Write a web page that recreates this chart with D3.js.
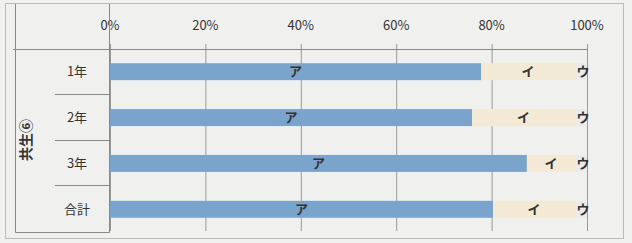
<!DOCTYPE html>
<html>
<head>
<meta charset="utf-8">
<script src="https://cdn.jsdelivr.net/npm/d3@7/dist/d3.min.js"></script>
<style>

html, body {
  width: 100%;
  height: 100%;
  overflow: hidden;
  margin: 0;
  padding: 0;
  background: #f1f1ef;
}

text {
  font-family: "Noto Sans CJK JP", "Noto Sans", sans-serif;
  fill: #333;
}

</style>
</head>
<body>
<script>

// values (percent)
var groupLabel = '共生⑥';
var categories = ['1年', '2年', '3年', '合計'];
var seriesNames = ['ア', 'イ', 'ウ'];
var seriesA = [77.8, 75.9, 87.4, 80.3];
var seriesI = [19.7, 21.6, 10.1, 17.2];
var seriesU = [2.5, 2.5, 2.5, 2.5];
var ticks = [0, 20, 40, 60, 80, 100];

var colors = ['#7ba4cd', '#f4e9d4', '#ebebe9'];

var w = 632,
    h = 243,
    svg = d3.select('body').append('svg')
      .attr('width', w)
      .attr('height', h);

var x = d3.scaleLinear().domain([0, 100]).range([110, 587]);
var y = d3.scaleBand().domain(categories).range([49, 232]).paddingInner(0.63).paddingOuter(0.31);

// outer frame
svg.append('rect')
  .attr('x', 5.5).attr('y', 3.5)
  .attr('width', 618).attr('height', 235)
  .attr('fill', '#f0f0ee')
  .attr('stroke', '#bbb');

// stack the series
var rows = categories.map(function(c, i) {
  return { cat: c, 'ア': seriesA[i], 'イ': seriesI[i], 'ウ': seriesU[i] };
});
var stacked = d3.stack().keys(seriesNames)(rows);

// vertical grid lines
svg.append('g').selectAll('line')
  .data(ticks)
  .enter().append('line')
  .attr('x1', function(d){ return x(d) + 0.5; })
  .attr('x2', function(d){ return x(d) + 0.5; })
  .attr('y1', 44)
  .attr('y2', 231)
  .attr('stroke', '#999')
  .attr('stroke-width', 1);

// axis line
svg.append('line')
  .attr('x1', 13).attr('x2', x(100))
  .attr('y1', 49.5).attr('y2', 49.5)
  .attr('stroke', '#888');

// tick labels
svg.append('g').selectAll('text')
  .data(ticks)
  .enter().append('text')
  .attr('x', function(d){ return x(d); })
  .attr('y', 30)
  .attr('text-anchor', 'middle')
  .style('font-size', '13px')
  .text(function(d){ return d + '%'; });

// bars
var layers = svg.append('g').selectAll('g')
  .data(stacked)
  .enter().append('g')
  .attr('fill', function(d, i){ return colors[i]; });

layers.selectAll('rect')
  .data(function(d){ return d; })
  .enter().append('rect')
  .attr('x', function(d){ return x(d[0]); })
  .attr('width', function(d){ return x(d[1]) - x(d[0]); })
  .attr('y', function(d){ return y(d.data.cat); })
  .attr('height', y.bandwidth());

// segment labels
layers.selectAll('text')
  .data(function(d){ return d.map(function(p){ return { p: p, key: d.key }; }); })
  .enter().append('text')
  .attr('x', function(d){ return (x(d.p[0]) + x(d.p[1])) / 2 + (d.key === 'ウ' ? 2 : 0); })
  .attr('y', function(d){ return y(d.p.data.cat) + y.bandwidth() / 2; })
  .attr('dy', '0.36em')
  .attr('text-anchor', 'middle')
  .style('font-size', '13px')
  .style('font-weight', 'bold')
  .style('fill', '#333')
  .text(function(d){ return d.key; });

// left label box
svg.append('path')
  .attr('d', 'M15.5,4 V232.5 H109.5 V4')
  .attr('fill', 'none')
  .attr('stroke', '#888');

// separators between categories
svg.append('g').selectAll('line')
  .data(categories.slice(1))
  .enter().append('line')
  .attr('x1', 55).attr('x2', 109)
  .attr('y1', function(d){ return Math.round(y(d) - y.step() * y.paddingInner() / 2) - 0.5; })
  .attr('y2', function(d){ return Math.round(y(d) - y.step() * y.paddingInner() / 2) - 0.5; })
  .attr('stroke', '#888');

// category labels
svg.append('g').selectAll('text')
  .data(categories)
  .enter().append('text')
  .attr('x', 77)
  .attr('y', function(d){ return y(d) + y.bandwidth() / 2; })
  .attr('dy', '0.36em')
  .attr('text-anchor', 'middle')
  .style('font-size', '13px')
  .text(function(d){ return d; });

// group label, rotated
svg.append('text')
  .attr('transform', 'translate(26,140) rotate(-90)')
  .attr('text-anchor', 'middle')
  .attr('dy', '0.36em')
  .style('font-size', '14px')
  .style('font-weight', 'bold')
  .text(groupLabel);

</script>
</body>
</html>
